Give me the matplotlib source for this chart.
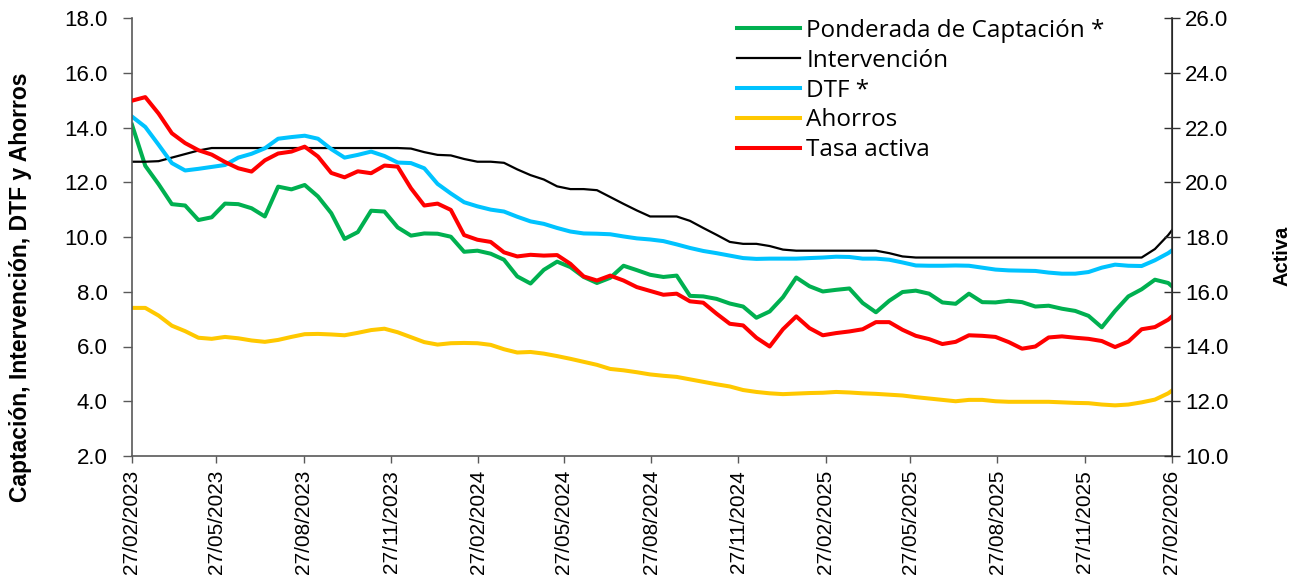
import matplotlib
matplotlib.use("Agg")
import matplotlib.pyplot as plt
import matplotlib.dates as mdates
import pandas as pd
from matplotlib.ticker import FormatStrFormatter, MultipleLocator

# ---- data ----
dates = pd.date_range("2023-02-27", periods=79, freq="14D").append(pd.DatetimeIndex(["2026-02-27"]))

ponderada = [
    14.10, 12.60, 11.93, 11.20, 11.15, 10.62, 10.72, 11.22, 11.20, 11.05,
    10.75, 11.84, 11.74, 11.90, 11.48, 10.87, 9.93, 10.18, 10.96, 10.93,
    10.35, 10.05, 10.13, 10.12, 10.01, 9.46, 9.50, 9.39, 9.17, 8.56,
    8.30, 8.80, 9.10, 8.90, 8.54, 8.32, 8.51, 8.95, 8.79, 8.62,
    8.54, 8.59, 7.85, 7.83, 7.74, 7.57, 7.46, 7.05, 7.28, 7.80,
    8.52, 8.20, 8.01, 8.07, 8.12, 7.59, 7.25, 7.67, 7.99, 8.04,
    7.93, 7.61, 7.56, 7.93, 7.62, 7.61, 7.67, 7.62, 7.46, 7.49,
    7.38, 7.30, 7.12, 6.70, 7.30, 7.83, 8.09, 8.44, 8.32, 8.20,
]
intervencion = [
    12.75, 12.75, 12.77, 12.90, 13.03, 13.16, 13.25, 13.25, 13.25, 13.25,
    13.25, 13.25, 13.25, 13.25, 13.25, 13.25, 13.25, 13.25, 13.25, 13.25,
    13.25, 13.23, 13.10, 13.00, 12.98, 12.85, 12.75, 12.75, 12.71, 12.47,
    12.26, 12.10, 11.85, 11.75, 11.75, 11.71, 11.46, 11.21, 10.97, 10.75,
    10.75, 10.75, 10.59, 10.33, 10.08, 9.82, 9.75, 9.75, 9.67, 9.54,
    9.50, 9.50, 9.50, 9.50, 9.50, 9.50, 9.50, 9.41, 9.29, 9.25,
    9.25, 9.25, 9.25, 9.25, 9.25, 9.25, 9.25, 9.25, 9.25, 9.25,
    9.25, 9.25, 9.25, 9.25, 9.25, 9.25, 9.25, 9.56, 10.07, 10.25,
]
dtf = [
    14.40, 14.02, 13.37, 12.70, 12.43, 12.49, 12.56, 12.63, 12.90, 13.04,
    13.24, 13.59, 13.65, 13.70, 13.59, 13.21, 12.90, 13.00, 13.12, 12.96,
    12.72, 12.70, 12.51, 11.94, 11.59, 11.27, 11.12, 11.00, 10.93, 10.74,
    10.57, 10.48, 10.33, 10.20, 10.13, 10.12, 10.10, 10.02, 9.95, 9.91,
    9.85, 9.73, 9.60, 9.49, 9.41, 9.32, 9.23, 9.20, 9.21, 9.21,
    9.21, 9.23, 9.25, 9.28, 9.27, 9.21, 9.21, 9.17, 9.07, 8.96,
    8.95, 8.95, 8.96, 8.95, 8.88, 8.81, 8.78, 8.77, 8.76, 8.70,
    8.66, 8.66, 8.72, 8.88, 8.99, 8.95, 8.94, 9.15, 9.41, 9.51,
]
ahorros = [
    7.41, 7.41, 7.13, 6.76, 6.56, 6.32, 6.28, 6.35, 6.30, 6.22,
    6.17, 6.24, 6.35, 6.45, 6.46, 6.44, 6.41, 6.50, 6.60, 6.65,
    6.52, 6.34, 6.16, 6.07, 6.12, 6.13, 6.12, 6.06, 5.90, 5.78,
    5.80, 5.74, 5.65, 5.55, 5.44, 5.33, 5.18, 5.13, 5.06, 4.98,
    4.93, 4.89, 4.80, 4.71, 4.62, 4.54, 4.41, 4.34, 4.29, 4.26,
    4.28, 4.30, 4.31, 4.34, 4.32, 4.29, 4.27, 4.24, 4.21, 4.15,
    4.10, 4.05, 4.00, 4.05, 4.05, 4.00, 3.98, 3.98, 3.98, 3.98,
    3.96, 3.94, 3.93, 3.88, 3.85, 3.88, 3.96, 4.06, 4.29, 4.39,
]
tasa_activa = [
    22.98, 23.11, 22.51, 21.79, 21.43, 21.17, 21.01, 20.74, 20.51, 20.39,
    20.80, 21.05, 21.12, 21.30, 20.94, 20.34, 20.18, 20.40, 20.33, 20.61,
    20.57, 19.78, 19.15, 19.22, 18.99, 18.07, 17.90, 17.82, 17.44, 17.29,
    17.35, 17.32, 17.34, 17.02, 16.56, 16.41, 16.59, 16.41, 16.17, 16.03,
    15.89, 15.93, 15.65, 15.60, 15.20, 14.83, 14.77, 14.32, 14.00, 14.63,
    15.10, 14.67, 14.41, 14.49, 14.55, 14.63, 14.89, 14.89, 14.61, 14.39,
    14.27, 14.09, 14.17, 14.41, 14.39, 14.35, 14.16, 13.92, 14.00, 14.33,
    14.37, 14.32, 14.28, 14.20, 13.98, 14.18, 14.63, 14.71, 14.98, 15.10,
]
labels = ["Ponderada de Captación *", "Intervención", "DTF *", "Ahorros", "Tasa activa"]
tick_dates = pd.date_range("2023-02-01", "2026-02-01", freq="3MS") + pd.Timedelta(days=26)

# ---- figure ----
plt.rcParams["font.family"] = ["Liberation Sans", "DejaVu Sans"]
fig = plt.figure(figsize=(13.05, 5.81), dpi=100)
ax = fig.add_axes([132 / 1305, 1 - 456 / 581, (1172 - 132) / 1305, (456 - 18) / 581])
ax2 = ax.twinx()

lw = 2.9
h1, = ax.plot(dates, ponderada, color="#00B050", lw=lw, solid_joinstyle="round")
h2, = ax.plot(dates, intervencion, color="#000000", lw=1.6, solid_joinstyle="round")
h3, = ax.plot(dates, dtf, color="#00C3FF", lw=lw, solid_joinstyle="round")
h4, = ax.plot(dates, ahorros, color="#FFC800", lw=lw, solid_joinstyle="round")
h5, = ax2.plot(dates, tasa_activa, color="#FF0000", lw=lw, solid_joinstyle="round")

ax.set_xlim(pd.Timestamp("2023-02-27"), pd.Timestamp("2026-02-27"))
ax.set_ylim(2, 18)
ax2.set_ylim(10, 26)
ax.yaxis.set_major_locator(MultipleLocator(2))
ax2.yaxis.set_major_locator(MultipleLocator(2))
ax.yaxis.set_major_formatter(FormatStrFormatter("%.1f"))
ax2.yaxis.set_major_formatter(FormatStrFormatter("%.1f"))

ax.set_xticks(tick_dates)
ax.xaxis.set_major_formatter(mdates.DateFormatter("%d/%m/%Y"))
for lab in ax.get_xticklabels():
    lab.set_rotation(90)

spine_col = "#595959"
for a in (ax, ax2):
    a.spines["top"].set_visible(False)
ax.spines["left"].set_color(spine_col)
ax.spines["bottom"].set_color(spine_col)
ax2.spines["right"].set_color("#303030")
ax2.spines["left"].set_visible(False)
ax2.spines["bottom"].set_visible(False)
for s in ("left", "bottom"):
    ax.spines[s].set_linewidth(1.2)
ax2.spines["right"].set_linewidth(1.2)

ax.tick_params(axis="y", direction="out", length=6.5, width=1.0, color=spine_col,
               labelsize=16, pad=11)
ax.tick_params(axis="x", direction="out", length=5, width=1.0, color=spine_col,
               labelsize=15, pad=5)
ax2.tick_params(axis="y", direction="inout", length=11, width=1.0, color="#303030",
                labelsize=16, pad=4)

fig.text(21 / 1305, 1 - 287 / 581, "Captación, Intervención, DTF y Ahorros",
         rotation=90, ha="center", va="center", fontsize=16.5, fontweight="bold")
fig.text(1282 / 1305, 1 - 256 / 581, "Activa", rotation=90, ha="center", va="center",
         fontsize=14.5, fontweight="bold")

leg = ax2.legend([h1, h2, h3, h4, h5], labels, loc="upper left",
                 bbox_to_anchor=(737 / 1305, 1 - 19 / 581), bbox_transform=fig.transFigure,
                 frameon=False, prop={"family": "Open Sans", "size": 17.5},
                 handlelength=2.6, handletextpad=0.25, labelspacing=0.24,
                 borderpad=0, borderaxespad=0)

fig.savefig("out.png", dpi=100)
